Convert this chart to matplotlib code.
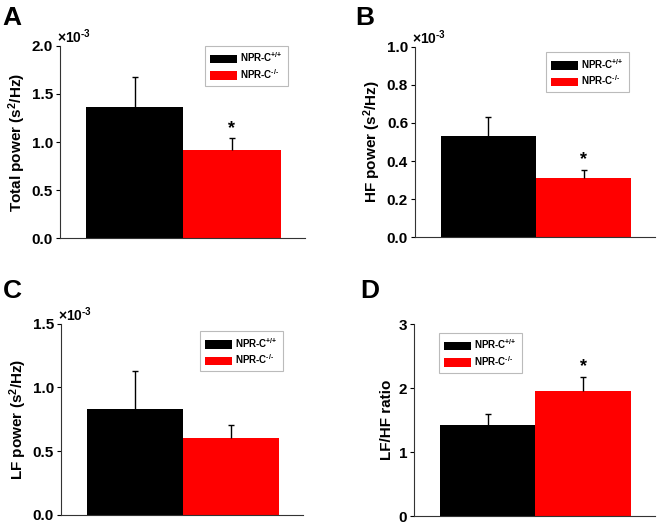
import numpy as np
import matplotlib
matplotlib.use('Agg')
from matplotlib import pyplot as plt

plt.rcParams['font.family'] = ['Liberation Sans', 'DejaVu Sans']
plt.rcParams['font.weight'] = 'bold'
plt.rcParams['mathtext.fontset'] = 'custom'
plt.rcParams['mathtext.rm'] = 'Liberation Sans:bold'
plt.rcParams['mathtext.bf'] = 'Liberation Sans:bold'
plt.rcParams['mathtext.default'] = 'bf'

# data (power values in units of 1e-3 s^2/Hz)
groups = [r'NPR-C$^{\text{+/+}}$', r'NPR-C$^{\text{-/-}}$']
colors = ['black', 'red']

total_mean = [1.36, 0.92]
total_sem = [0.31, 0.12]
hf_mean = [0.53, 0.31]
hf_sem = [0.10, 0.045]
lf_mean = [0.83, 0.605]
lf_sem = [0.30, 0.10]
ratio_mean = [1.43, 1.96]
ratio_sem = [0.17, 0.22]

panels = [
    # letter, mean, sem, ylabel, ymax, ticks, multiplier, star, axes rect, legend loc/anchor
    ('A', total_mean, total_sem, r'Total power (s$^2$/Hz)', 2.0, [0.0, 0.5, 1.0, 1.5, 2.0], True, [False, True],
     [0.0909, 0.5452, 0.371, 0.3676], ('upper right', (0.95, 1.025))),
    ('B', hf_mean, hf_sem, r'HF power (s$^2$/Hz)', 1.0, [0.0, 0.2, 0.4, 0.6, 0.8, 1.0], True, [False, True],
     [0.6288, 0.5471, 0.364, 0.3639], ('upper right', (0.91, 0.998))),
    ('C', lf_mean, lf_sem, r'LF power (s$^2$/Hz)', 1.5, [0.0, 0.5, 1.0, 1.5], True, [False, False],
     [0.0924, 0.0177, 0.367, 0.3645], ('upper right', (0.935, 0.987))),
    ('D', ratio_mean, ratio_sem, 'LF/HF ratio', 3.0, [0, 1, 2, 3], False, [False, True],
     [0.6273, 0.0147, 0.365, 0.3664], ('upper left', (0.085, 0.982))),
]

fig = plt.figure(figsize=(6.6, 5.24), dpi=100)

for letter, mean, sem, ylab, ymax, ticks, mult, stars, rect, leg in panels:
    ax = fig.add_axes(rect)
    x = np.arange(len(mean))
    bars = ax.bar(x, mean, width=1.0, color=colors, edgecolor='none')
    ax.errorbar(x, mean, yerr=[np.zeros(len(mean)), sem], fmt='none', ecolor='black', elinewidth=1.0, capsize=0)
    tops = np.array(mean) + np.array(sem)
    ax.plot(x, tops, ls='none', marker='_', ms=4, mew=1.0, color='black')
    for xi, t, s in zip(x, tops, stars):
        if s:
            ax.annotate('*', (xi, t), xytext=(0, 1), textcoords='offset points',
                        ha='center', va='bottom', fontsize=13, fontweight='bold')
    ax.set_xlim(-0.77, 1.75)
    ax.set_ylim(0, ymax)
    ax.set_yticks(ticks)
    if mult:
        ax.set_yticklabels(['%.1f' % t for t in ticks])
        ax.text(-0.012, 1.0, r'$\times$10$^{\text{-3}}$', transform=ax.transAxes, ha='left', va='bottom',
                fontsize=10)
    else:
        ax.set_yticklabels(['%d' % t for t in ticks])
    ax.set_xticks([])
    ax.spines['top'].set_visible(False)
    ax.spines['right'].set_visible(False)
    for sp in ['left', 'bottom']:
        ax.spines[sp].set_linewidth(0.8)
        ax.spines[sp].set_color('#333333')
    ax.tick_params(axis='y', direction='out', length=3, width=0.8, labelsize=11, pad=2)
    ax.set_ylabel(ylab, fontsize=11, fontweight='bold', labelpad=3)
    lg = ax.legend(bars, groups, loc=leg[0], bbox_to_anchor=leg[1], fontsize=7, frameon=True,
                   fancybox=False, edgecolor='#aaaaaa', handlelength=2.8, handleheight=1.0,
                   borderpad=0.5, labelspacing=0.3, handletextpad=0.3)
    lg.get_frame().set_linewidth(0.8)

# panel letters
fig.text(0.003, 0.988, 'A', fontsize=19, fontweight='bold', va='top', ha='left')
fig.text(0.538, 0.988, 'B', fontsize=19, fontweight='bold', va='top', ha='left')
fig.text(0.005, 0.468, 'C', fontsize=19, fontweight='bold', va='top', ha='left')
fig.text(0.546, 0.468, 'D', fontsize=19, fontweight='bold', va='top', ha='left')

fig.savefig('out.png', dpi=100)
